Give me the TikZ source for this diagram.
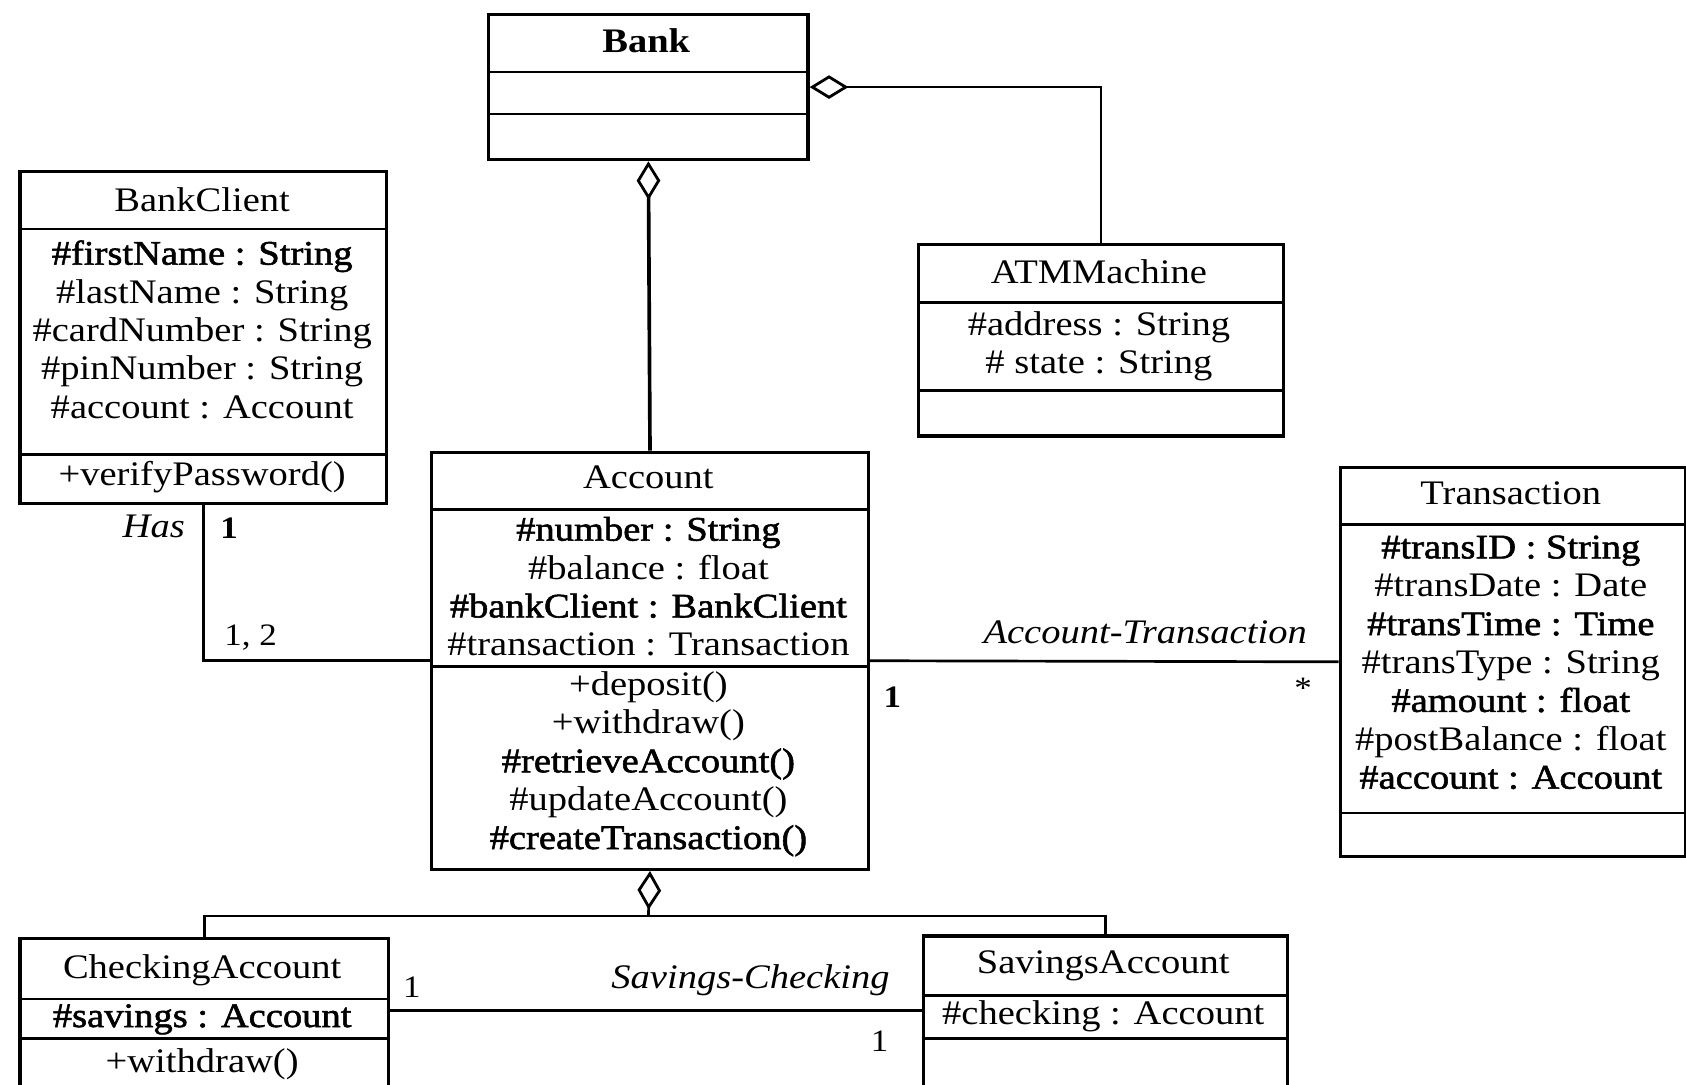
\documentclass[tikz,border=0pt]{standalone}
\usepackage{fontspec}
\setmainfont{Liberation Serif}[FakeStretch=1.12]
\newfontfamily\heavy{Liberation Serif}[FakeStretch=1.12, FakeBold=1.6]
\usetikzlibrary{arrows.meta}
\begin{document}
\begin{tikzpicture}[x=1pt,y=-1pt,
  classbox/.style={draw, line width=3pt, rectangle, anchor=north west, inner sep=0pt},
  divider/.style={line width=2.6pt},
  txt/.style={font=\fontsize{32}{35.7}\selectfont, align=center, inner sep=0pt},
  conn/.style={line width=2.5pt},
  agg/.style={conn, {Diamond[open, length=36pt, width=22pt, line width=2.6pt]}-},
  lbl/.style={font=\fontsize{32}{36}\selectfont\itshape, inner sep=0pt},
  mult/.style={font=\fontsize{29}{32}\selectfont, inner sep=0pt}
]
\useasboundingbox (0,0) rectangle (1568,1009);
\fill[white] (0,0) rectangle (1568,1009);
\clip (0,0) rectangle (1568,1009);

% ---- Bank ----
\node[classbox, minimum width=297pt, minimum height=135pt] (bank) at (453,12) {};
\draw[divider] (bank.west |- 0,67) -- (bank.east |- 0,67);
\draw[divider] (bank.west |- 0,106) -- (bank.east |- 0,106);
\node[txt] (bankT) at (601,38) {\textbf{Bank}};

% ---- BankClient ----
\node[classbox, minimum width=341pt, minimum height=309pt] (client) at (17,158) {};
\draw[divider] (client.west |- 0,213) -- (client.east |- 0,213);
\draw[divider] (client.west |- 0,423) -- (client.east |- 0,423);
\node[txt] (clientT) at (188,186) {BankClient};
\node[txt] (clientA) at (188,306.5) {{\heavy\#firstName : String}\\\#lastName : String\\\#cardNumber : String\\\#pinNumber : String\\\#account : Account};
\node[txt] (clientM) at (188,444) {+verifyPassword()};

% ---- ATMMachine ----
\node[classbox, minimum width=339pt, minimum height=178pt] (atm) at (853,226) {};
\draw[divider] (atm.west |- 0,281) -- (atm.east |- 0,281);
\draw[divider] (atm.west |- 0,363) -- (atm.east |- 0,363);
\node[txt] (atmT) at (1022,253) {ATMMachine};
\node[txt] (atmA) at (1022,322) {\#address : String\\\# state : String};

% ---- Account ----
\node[classbox, minimum width=406pt, minimum height=388pt] (account) at (400,419) {};
\draw[divider] (account.west |- 0,474) -- (account.east |- 0,474);
\draw[divider] (account.west |- 0,620) -- (account.east |- 0,620);
\node[txt] (accountT) at (603,444) {Account};
\node[txt] (accountA) at (603,545.5) {{\heavy\#number : String}\\\#balance : float\\{\heavy\#bankClient : BankClient}\\\#transaction : Transaction};
\node[txt] (accountM) at (603,710.5) {+deposit()\\+withdraw()\\{\heavy\#retrieveAccount()}\\\#updateAccount()\\{\heavy\#createTransaction()}};

% ---- Transaction ----
\node[classbox, minimum width=321pt, minimum height=362pt] (trans) at (1245,433) {};
\draw[divider] (trans.west |- 0,488) -- (trans.east |- 0,488);
\draw[divider] (trans.west |- 0,756) -- (trans.east |- 0,756);
\node[txt] (transT) at (1405,459) {Transaction};
\node[txt] (transA) at (1405,616) {{\heavy\#transID : String}\\\#transDate : Date\\{\heavy\#transTime : Time}\\\#transType : String\\{\heavy\#amount : float}\\\#postBalance : float\\{\heavy\#account : Account}};

% ---- CheckingAccount ----
\node[classbox, minimum width=343pt, minimum height=160pt] (checking) at (17,871) {};
\draw[divider] (checking.west |- 0,929) -- (checking.east |- 0,929);
\draw[divider] (checking.west |- 0,966) -- (checking.east |- 0,966);
\node[txt] (checkingT) at (188,902) {CheckingAccount};
\node[txt] (checkingA) at (188,948) {{\heavy\#savings : Account}};
\node[txt] (checkingM) at (188,990) {+withdraw()};

% ---- SavingsAccount ----
\node[classbox, minimum width=339pt, minimum height=160pt] (savings) at (857,869) {};
\draw[divider] (savings.west |- 0,926) -- (savings.east |- 0,926);
\draw[divider] (savings.west |- 0,966) -- (savings.east |- 0,966);
\node[txt] (savingsT) at (1026,898) {SavingsAccount};
\node[txt] (savingsA) at (1026,945) {\#checking : Account};

% ---- aggregations ----
\draw[agg] (bank.east) -| (atm.north);
\draw[agg, line width=3.4pt] (bank.south) -- (account.north);
\coordinate (hub) at (603,852);
\draw[agg] (account.south) -- (hub);
\draw[conn] (checking.north) |- (hub) -| (savings.north);

% ---- associations ----
\draw[conn] (client.south) |- (account.west);
\node[lbl] (hasL) at (143,490) {Has};
\node[mult] (hasM1) at (213,491) {\textbf{1}};
\node[mult] (hasM2) at (233,593) {1, 2};

\draw[conn] (account.east) -- (trans.west);
\node[lbl] (atL) at (1065,588) {Account-Transaction};
\node[mult] (atM1) at (830,648) {\textbf{1}};
\node[mult] (atM2) at (1212,640) {*};

\coordinate (scy) at (0,940);
\draw[conn] (checking.east |- scy) -- (savings.west |- scy);
\node[lbl] (scL) at (698,912) {Savings-Checking};
\node[mult] (scM1) at (383,918) {1};
\node[mult] (scM2) at (818,968) {1};
\end{tikzpicture}
\end{document}
